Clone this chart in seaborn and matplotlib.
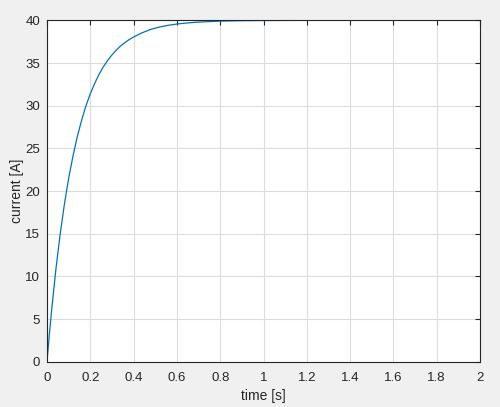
import pandas as pd
import matplotlib
matplotlib.use('Agg')
import matplotlib.pyplot as plt
import seaborn as sns

# values
time_s = [0.0, 0.01, 0.02, 0.04, 0.06, 0.08, 0.10, 0.12, 0.14, 0.16, 0.18,
          0.20, 0.22, 0.24, 0.26, 0.28, 0.30, 0.32, 0.34, 0.36, 0.38, 0.40,
          0.44, 0.48, 0.52, 0.56, 0.60, 0.65, 0.70, 0.80, 0.90, 1.0, 1.2,
          1.4, 1.6, 1.8, 2.0]
current_a = [0.0, 2.96, 5.7, 10.6, 14.8, 18.4, 21.5, 24.1, 26.4, 28.3, 30.0,
             31.4, 32.6, 33.65, 34.55, 35.3, 35.95, 36.5, 37.0, 37.4, 37.75, 38.05,
             38.55, 38.95, 39.22, 39.42, 39.57, 39.7, 39.8, 39.91, 39.96, 39.98, 40.0,
             40.0, 40.0, 40.0, 40.0]
x_ticks = [0, 0.2, 0.4, 0.6, 0.8, 1, 1.2, 1.4, 1.6, 1.8, 2]
x_labels = ['0', '0.2', '0.4', '0.6', '0.8', '1', '1.2', '1.4', '1.6', '1.8', '2']
y_ticks = [0, 5, 10, 15, 20, 25, 30, 35, 40]

df = pd.DataFrame({'time': time_s, 'current': current_a})

sns.set_style('white')
plt.rcParams['font.family'] = ['Liberation Sans', 'DejaVu Sans']

fig = plt.figure(figsize=(5, 4.07), dpi=100, facecolor='#f0f0f0')
ax = fig.add_axes([0.094, 0.111, 0.866, 0.839])
ax.set_facecolor('white')

sns.lineplot(data=df, x='time', y='current', ax=ax, color='#0072BD', linewidth=0.9)

ax.set_xlim(0, 2)
ax.set_ylim(0, 40)
ax.set_xticks(x_ticks)
ax.set_xticklabels(x_labels)
ax.set_yticks(y_ticks)
ax.grid(True, color='#dcdcdc', linewidth=0.8)
ax.set_axisbelow(True)
ax.tick_params(direction='in', length=3.5, width=0.8, colors='#262626',
               labelsize=9.5, top=True, right=True)
ax.tick_params(axis='x', pad=7)
ax.tick_params(axis='y', pad=5)
for s in ax.spines.values():
    s.set_color('#262626')
    s.set_linewidth(0.8)
    s.set_visible(True)
ax.set_xlabel('time [s]', fontsize=10, color='#262626', labelpad=4)
ax.set_ylabel('current [A]', fontsize=10, color='#262626', labelpad=1)

fig.savefig('out.png', dpi=100, facecolor=fig.get_facecolor())
